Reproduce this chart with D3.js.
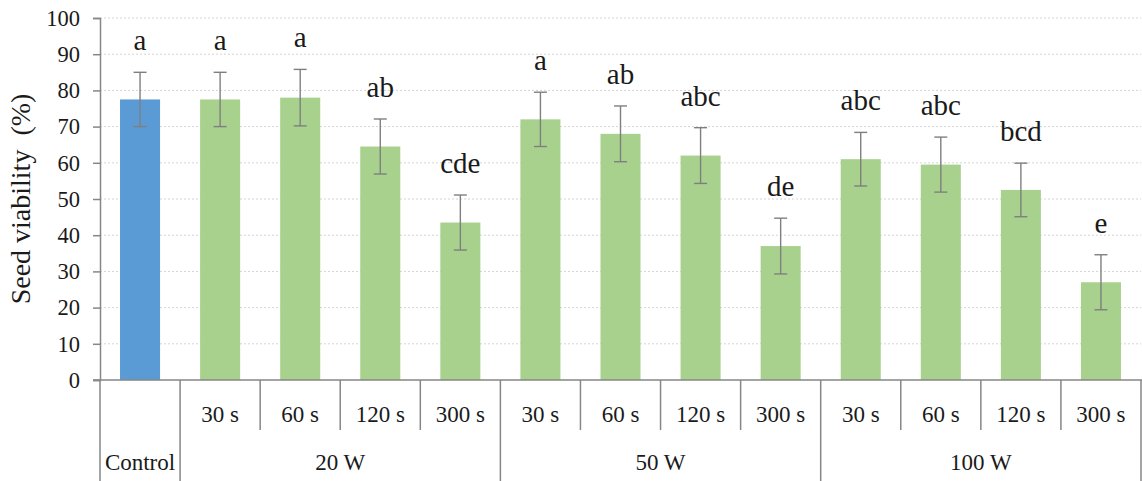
<!DOCTYPE html>
<html>
<head>
<meta charset="utf-8">
<script src="https://d3js.org/d3.v7.min.js"></script>
</head>
<body style="margin:0">
<svg id="chart" width="1142" height="481"></svg>
<script>
// Treatment categories (power level + exposure time)
const groups = ["Control", "20 W", "50 W", "100 W"];
const times = ["", "30 s", "60 s", "120 s", "300 s", "30 s", "60 s", "120 s", "300 s", "30 s", "60 s", "120 s", "300 s"];
const groupOf = ["Control", "20 W", "20 W", "20 W", "20 W", "50 W", "50 W", "50 W", "50 W", "100 W", "100 W", "100 W", "100 W"];
// Mean seed viability (%) and error
const viability = [77.5, 77.5, 78, 64.5, 43.5, 72, 68, 62, 37, 61, 59.5, 52.5, 27];
const errors = [7.5, 7.5, 7.8, 7.6, 7.6, 7.5, 7.7, 7.7, 7.7, 7.4, 7.6, 7.4, 7.6];
const letters = ["a", "a", "a", "ab", "cde", "a", "ab", "abc", "de", "abc", "abc", "bcd", "e"];
const yTicks = [0, 10, 20, 30, 40, 50, 60, 70, 80, 90, 100];

const FONT = '"Liberation Serif", Tinos, "Times New Roman"';
const INK = "#1a1a1a";

// Serif text helper
function serif(sel, size) {
  return sel.attr("font-family", FONT).attr("font-size", size).attr("fill", INK);
}

const svg = d3.select("#chart");
const plotLeft = 100, plotRight = 1141, plotTop = 18, plotBase = 380;

const x = d3.scaleBand().domain(d3.range(viability.length)).range([plotLeft, plotRight]).paddingInner(0.5).paddingOuter(0.25);
const y = d3.scaleLinear().domain([0, 100]).range([plotBase, plotTop]);

// Horizontal gridlines
svg.append("g").selectAll("line").data(yTicks.filter(d => d > 0)).join("line")
  .attr("x1", plotLeft).attr("x2", plotRight)
  .attr("y1", d => y(d)).attr("y2", d => y(d))
  .attr("stroke", "#d4d4d4").attr("stroke-width", 1).attr("stroke-dasharray", "2,2");

// Y axis: ticks and domain drawn by d3, labels as separate texts
const yAxis = svg.append("g").attr("transform", `translate(${plotLeft},0)`)
  .call(d3.axisLeft(y).tickValues(yTicks).tickSize(7).tickFormat(""));
yAxis.select(".domain").attr("stroke", "#868686").attr("stroke-width", 1.5);
yAxis.selectAll(".tick line").attr("stroke", "#868686").attr("stroke-width", 1.5);
serif(svg.append("g").selectAll("text").data(yTicks).join("text"), 22.5)
  .attr("x", plotLeft - 20).attr("y", d => y(d)).attr("dy", "0.35em")
  .attr("text-anchor", "end")
  .text(d => d);

// Y title
serif(svg.append("text"), 28)
  .attr("transform", `translate(30,${(plotTop + plotBase) / 2}) rotate(-90)`)
  .attr("text-anchor", "middle")
  .text("Seed viability\u00a0\u00a0(%)");

// Bars
svg.append("g").selectAll("rect").data(viability).join("rect")
  .attr("x", (d, i) => x(i)).attr("width", x.bandwidth())
  .attr("y", d => y(d)).attr("height", d => plotBase - y(d))
  .attr("fill", (d, i) => i === 0 ? "#5b9bd5" : "#a9d18e");

// Error bars
const eb = svg.append("g").attr("stroke", "#7f7f7f").attr("stroke-width", 1.4);
viability.forEach((v, i) => {
  const cx = x(i) + x.bandwidth() / 2;
  eb.append("line").attr("x1", cx).attr("x2", cx).attr("y1", y(v + errors[i])).attr("y2", y(v - errors[i]));
  eb.append("line").attr("x1", cx - 6.5).attr("x2", cx + 6.5).attr("y1", y(v + errors[i])).attr("y2", y(v + errors[i]));
  eb.append("line").attr("x1", cx - 6.5).attr("x2", cx + 6.5).attr("y1", y(v - errors[i])).attr("y2", y(v - errors[i]));
});

// Significance letters
serif(svg.append("g").selectAll("text").data(letters).join("text"), 29)
  .attr("x", (d, i) => x(i) + x.bandwidth() / 2)
  .attr("y", (d, i) => y(viability[i] + errors[i]) - 22)
  .attr("text-anchor", "middle")
  .text(d => d);

// Category table below the axis
const step = x.step();
const edge = i => plotLeft + i * step;
const tbl = svg.append("g").attr("stroke", "#868686").attr("stroke-width", 1.5);
tbl.append("line").attr("x1", plotLeft - 7).attr("x2", 1142).attr("y1", plotBase).attr("y2", plotBase);
for (let i = 0; i <= viability.length; i++) {
  const long = i === 0 || i === viability.length || groupOf[i] !== groupOf[i - 1];
  tbl.append("line").attr("x1", edge(i)).attr("x2", edge(i))
    .attr("y1", plotBase).attr("y2", long ? 481 : 430);
}

// Time labels
serif(svg.append("g").selectAll("text").data(times).join("text"), 23)
  .attr("x", (d, i) => x(i) + x.bandwidth() / 2)
  .attr("y", 422).attr("text-anchor", "middle")
  .text(d => d);

// Group labels
serif(svg.append("g").selectAll("text").data(groups).join("text"), 23)
  .attr("x", g => {
    const idx = groupOf.map((d, i) => d === g ? i : -1).filter(i => i >= 0);
    return (edge(idx[0]) + edge(idx[idx.length - 1] + 1)) / 2;
  })
  .attr("y", 470).attr("text-anchor", "middle")
  .text(g => g);
</script>
</body>
</html>
